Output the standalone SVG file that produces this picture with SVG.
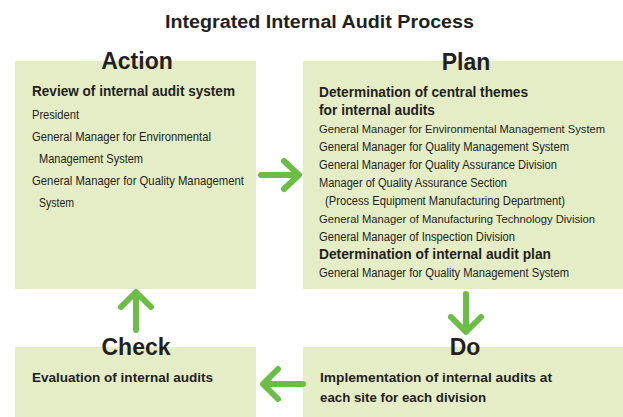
<svg xmlns="http://www.w3.org/2000/svg" width="623" height="417" viewBox="0 0 623 417">
<style>
.box{fill:#e4edc5}
.t{font-family:"Liberation Sans",Arial,sans-serif;fill:#231f20}
.title{font-size:18px;font-weight:bold}
.hd{font-size:23px;font-weight:bold;text-anchor:middle}
.b{font-size:14px;font-weight:bold}
.bs{font-size:13px;font-weight:bold}
.r{font-size:12.5px}
.rs{font-size:11.8px}
.ra{font-size:13.5px}
.arr{fill:none;stroke:#6cbd45;stroke-width:6;stroke-linecap:round;stroke-linejoin:round}
</style>
<rect width="623" height="417" fill="#ffffff"/>
<text class="t title" x="165" y="28" textLength="309" lengthAdjust="spacingAndGlyphs">Integrated Internal Audit Process</text>

<g id="action">
<rect class="box" x="15" y="61" width="241" height="228"/>
<text class="t hd" x="137" y="69">Action</text>
<text class="t b" x="32" y="96" textLength="203" lengthAdjust="spacingAndGlyphs">Review of internal audit system</text>
<text class="t ra" x="32" y="119" textLength="47" lengthAdjust="spacingAndGlyphs">President</text>
<text class="t ra" x="32" y="141" textLength="179" lengthAdjust="spacingAndGlyphs">General Manager for Environmental</text>
<text class="t ra" x="39" y="163" textLength="104" lengthAdjust="spacingAndGlyphs">Management System</text>
<text class="t ra" x="32" y="185" textLength="212" lengthAdjust="spacingAndGlyphs">General Manager for Quality Management</text>
<text class="t ra" x="39" y="207" textLength="35" lengthAdjust="spacingAndGlyphs">System</text>
</g>

<g id="plan">
<rect class="box" x="303" y="61" width="320" height="228"/>
<text class="t hd" x="466" y="70">Plan</text>
<text class="t b" x="319" y="97" textLength="209" lengthAdjust="spacingAndGlyphs">Determination of central themes</text>
<text class="t b" x="319" y="115" textLength="116" lengthAdjust="spacingAndGlyphs">for internal audits</text>
<text class="t rs" x="319" y="133" textLength="286" lengthAdjust="spacingAndGlyphs">General Manager for Environmental Management System</text>
<text class="t r" x="319" y="151" textLength="250" lengthAdjust="spacingAndGlyphs">General Manager for Quality Management System</text>
<text class="t r" x="319" y="169" textLength="238" lengthAdjust="spacingAndGlyphs">General Manager for Quality Assurance Division</text>
<text class="t r" x="319" y="187" textLength="188" lengthAdjust="spacingAndGlyphs">Manager of Quality Assurance Section</text>
<text class="t r" x="325" y="205" textLength="240" lengthAdjust="spacingAndGlyphs">(Process Equipment Manufacturing Department)</text>
<text class="t rs" x="319" y="223" textLength="276" lengthAdjust="spacingAndGlyphs">General Manager of Manufacturing Technology Division</text>
<text class="t r" x="319" y="241" textLength="196" lengthAdjust="spacingAndGlyphs">General Manager of Inspection Division</text>
<text class="t b" x="319" y="259" textLength="232" lengthAdjust="spacingAndGlyphs">Determination of internal audit plan</text>
<text class="t r" x="319" y="277" textLength="250" lengthAdjust="spacingAndGlyphs">General Manager for Quality Management System</text>
</g>

<g id="check">
<rect class="box" x="15" y="347" width="241" height="70"/>
<text class="t hd" x="136" y="355">Check</text>
<text class="t bs" x="32" y="382" textLength="181" lengthAdjust="spacingAndGlyphs">Evaluation of internal audits</text>
</g>

<g id="do">
<rect class="box" x="303" y="347" width="320" height="70"/>
<text class="t hd" x="465" y="355">Do</text>
<text class="t bs" x="320" y="382" textLength="232" lengthAdjust="spacingAndGlyphs">Implementation of internal audits at</text>
<text class="t bs" x="320" y="402" textLength="166" lengthAdjust="spacingAndGlyphs">each site for each division</text>
</g>

<g id="connectors">
<path class="arr" d="M261 175 H298 M284 161 L299 175 L284 189"/>
<path class="arr" d="M466 294 V331 M451 317 L466 332 L481 317"/>
<path class="arr" d="M303 384 H264 M278 369 L263 384 L278 399"/>
<path class="arr" d="M136 330 V293 M121 307 L136 292 L151 307"/>
</g>
</svg>
